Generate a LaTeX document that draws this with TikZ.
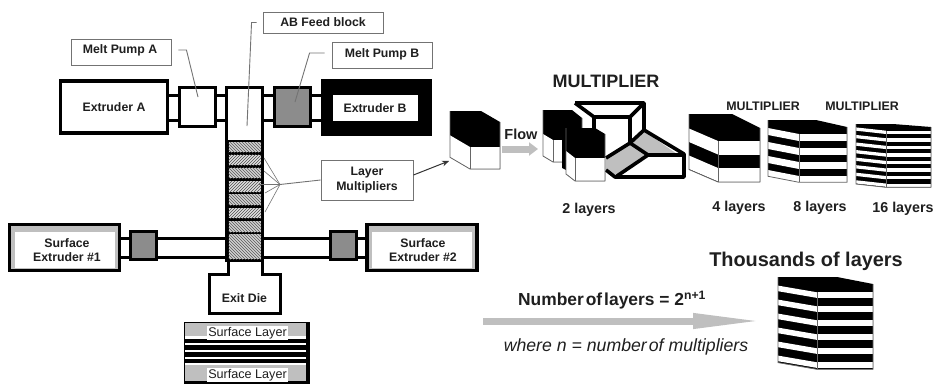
\documentclass[tikz,border=0pt]{standalone}
\usepackage{fontspec}
\setmainfont{Liberation Sans}
\usetikzlibrary{patterns,arrows.meta}
\definecolor{pumpgray}{gray}{0.55}
\definecolor{bandgray}{gray}{0.75}
\definecolor{leadgray}{gray}{0.45}
\definecolor{inkgray}{gray}{0.12}
\newcommand{\fsz}[1]{\fontsize{#1}{#1}\selectfont}
% xl xbk xm xr ytop yrc ybot yf0 h per n off
\newcommand{\layerblock}[8]{%
  \def\xl{#1}\def\xbk{#2}\def\xm{#3}\def\xr{#4}\def\ytop{#5}\def\yrc{#6}\def\ybot{#7}\def\yfz{#8}\layerblockb}
\newcommand{\layerblockb}[4]{%
  \fill[black] (\xl,\ytop) -- (\xbk,\ytop) -- (\xr,\yrc) -- (\xr,\ybot) -- (\xm,\ybot) -- ({\xl},{\ybot-#4}) -- cycle;
  \foreach \i in {1,...,#3}{
    \pgfmathsetmacro{\ya}{\yfz+(\i-1)*#2}
    \pgfmathsetmacro{\yb}{\ya+#1}
    \fill[white] (\xm,\ya) -- (\xr,\ya) -- (\xr,\yb) -- (\xm,\yb) -- cycle;
    \fill[white] ({\xl},{\ya-#4}) -- (\xm,\ya) -- (\xm,\yb) -- ({\xl},{\yb-#4}) -- cycle;
  }
  \draw[blockedge] (\xm,\yfz) -- (\xm,\ybot);
  \draw[blockedge] (\xr,\yrc) -- (\xr,\ybot) -- (\xm,\ybot) -- ({\xl},{\ybot-#4}) -- (\xl,\ytop);
}
\tikzset{
  x=1pt,y=-1pt,
  blockedge/.style={draw=black!60,line width=0.8pt},
  callout/.style={draw=leadgray,line width=0.9pt,fill=white,inner sep=0pt,align=center,font=\fsz{12.3}\bfseries,text=inkgray},
  unit/.style={draw=black,line width=3.2pt,fill=white,inner sep=0pt,align=center,font=\fsz{12.3}\bfseries,text=inkgray},
  pumpunit/.style={draw=black,line width=3.2pt,fill=#1,inner sep=0pt},
  pumpunit/.default=white,
  pipe/.style={draw=black,line width=3pt},
  leader/.style={draw=leadgray,line width=0.9pt},
  fan/.style={draw=leadgray,line width=0.6pt},
  hatchA/.style={fill=black!18,postaction={pattern=north west lines,pattern color=black!65}},
  hatchB/.style={fill=black!12,postaction={pattern=north east lines,pattern color=black!70}},
  flowarrow/.style={draw=bandgray,line width=7pt},
  title/.style={inner sep=0pt,font=\bfseries,text=inkgray},
  frameline/.style={draw=black,line width=3.6pt,line join=round},
}
\begin{document}
\begin{tikzpicture}
\useasboundingbox (0,0) rectangle (933,383);
% --- pipes
\coordinate (pa1) at (169,95); \coordinate (pa2) at (321,95);
\coordinate (pb1) at (169,120.5); \coordinate (pb2) at (321,120.5);
\draw[pipe] (pa1) -- (pa2); \draw[pipe] (pb1) -- (pb2);
\coordinate (sa1) at (121,238.5); \coordinate (sa2) at (366,238.5);
\coordinate (sb1) at (121,257); \coordinate (sb2) at (366,257);
\draw[pipe] (sa1) -- (sa2); \draw[pipe] (sb1) -- (sb2);
% --- extruders
\node[unit,minimum width=107,minimum height=52] (extA) at (114,107) {Extruder A};
\node[draw=black,fill=black,minimum width=110,minimum height=56,inner sep=0pt] (extBo) at (376,107) {};
\node[fill=white,minimum width=85,minimum height=26,inner sep=0pt,font=\fsz{12.3}\bfseries,text=inkgray] (extB) at (375,108) {Extruder B};
\node[pumpunit,minimum width=36,minimum height=39] (pumpA) at (197.5,107) {};
\node[pumpunit=pumpgray,minimum width=36,minimum height=39] (pumpB) at (292.5,107) {};
% --- column
\fill[white] (227,87.5) rectangle (262,262);
\draw[black,line width=3.2pt] (226.6,262) -- (226.6,87.6) -- (262.4,87.6) -- (262.4,262);
\fill[black] (226,140) rectangle (263,262);
\foreach \ya/\yb/\st in {142/152/hatchA,154.5/165/hatchB,167.5/178/hatchA,181/192/hatchB,194/205/hatchA,208/218/hatchB,221/232/hatchA,234/259/hatchA}{
  \path[\st] (228.5,\ya) rectangle (261,\yb);
}
% --- surface extruders
\foreach \nm/\cx/\tx/\lab in {surfL/64.5/67/{Surface\\[2pt]Extruder \#1},surfR/422/423/{Surface\\[2pt]Extruder \#2}}{
  \node[draw=black,line width=3.2pt,fill=bandgray,minimum width=110,minimum height=46,inner sep=0pt] (\nm o) at (\cx,247.5) {};
  \node[fill=white,minimum width=100,minimum height=36,inner sep=0pt] (\nm b) at (\cx,250) {};
  \node[inner sep=0pt,align=center,font=\fsz{12.3}\bfseries,text=inkgray] (\nm) at (\tx,250) {\lab};
}
\node[pumpunit=pumpgray,minimum width=26,minimum height=28] (pumpL) at (143.5,245.5) {};
\node[pumpunit=pumpgray,minimum width=26,minimum height=28] (pumpR) at (343.5,245.5) {};
% --- exit die
\draw[black,line width=3pt,fill=white] (228,262) -- (228,274) -- (209.5,274) -- (209.5,313) -- (280.5,313) -- (280.5,274) -- (262,274) -- (262,262);
\node[inner sep=0pt,font=\fsz{12.3}\bfseries,text=inkgray] (die) at (244.5,298) {Exit Die};
% --- surface layer stack
\node[draw=black,line width=3pt,fill=black,minimum width=123,minimum height=62,inner sep=0pt,anchor=north west] (stack) at (183.5,321.5) {};
\fill[bandgray] (185,323) rectangle (306,336);
\fill[white] (185,336) rectangle (306,339);
\foreach \y in {343,350,356.5,363}{\fill[white] (185,\y) rectangle (306,\y+2.2);}
\fill[bandgray] (185,365) rectangle (306,381);
\node[fill=white,inner sep=1pt,font=\fsz{12.6},text=inkgray] (sl1) at (247.5,333) {Surface Layer};
\node[fill=white,inner sep=1pt,font=\fsz{12.6},text=inkgray] (sl2) at (247.5,375) {Surface Layer};
% --- callouts
\node[callout,minimum width=100,minimum height=26] (lblA) at (121,52) {};
\node[inner sep=0pt,font=\fsz{12.3}\bfseries,text=inkgray] at (120,50) {Melt Pump A};
\node[callout,minimum width=120,minimum height=21] (lblFeed) at (323,22.5) {AB Feed block};
\node[callout,minimum width=100,minimum height=26] (lblB) at (382,55) {};
\node[inner sep=0pt,font=\fsz{12.3}\bfseries,text=inkgray] at (382,54) {Melt Pump B};
\node[callout,minimum width=92,minimum height=40] (lblLM) at (367,180) {Layer\\[2pt]Multipliers};
% leaders
\coordinate (leadA) at (198,97); \coordinate (leadFeed) at (247,126); \coordinate (leadB) at (295,102);
\draw[leader] (lblA.east)++(7,-2) -- ++(8,0) -- (leadA);
\draw[leader] (lblFeed.west)++(-6,0) -- ++(-5,0) -- (leadFeed);
\draw[leader] (lblB.west)++(-7,-2) -- ++(-15,0) -- (leadB);
\coordinate (hub) at (280,184.5);
\draw[leader] (lblLM.west) -- (hub);
\foreach \ex/\ey in {264/158,264/171,258/184.5,265/193,265/212}{
  \coordinate (fanend) at (\ex,\ey);
  \draw[fan] (hub) -- (fanend);
}
\coordinate (lmTip) at (449,161);
\draw[draw=black!80,line width=1pt,-{Stealth[length=7pt,width=6pt]}] (lblLM.east)+(0,-5) -- (lmTip);
% --- blocks
\layerblock{450}{481}{470}{500}{111}{122}{169}{147}{22}{22}{1}{11.7}
\node[title,font=\fsz{14.5}\bfseries] (flowlab) at (521,134) {Flow};
\coordinate (fa1) at (502,149); \coordinate (fa2) at (538,149);
\draw[flowarrow,-{Triangle[length=9pt,width=13pt]}] (fa1) -- (fa2);
% multiplier frame
\fill[white] (575,103) -- (644,103) -- (644,130) -- (684,154) -- (684,177) -- (615,177) -- (606,170) -- (594,128) -- cycle;
\fill[bandgray] (606,158) -- (630,144) -- (647,156) -- (617,176) -- (606,170) -- cycle;
\fill[bandgray] (632,142) -- (644,131) -- (677,154) -- (648,154) -- cycle;
\draw[frameline] (575,103) -- (644,103) -- (644,130) -- (684,154) -- (684,177) -- (615,177) -- (606,170);
\draw[frameline] (575,103) -- (594,117) -- (630,117) -- (644,103);
\draw[frameline] (594,117) -- (594,130);
\draw[frameline] (630,117) -- (630,143);
\draw[frameline] (644,130) -- (630,143) -- (606,158);
\draw[frameline] (630,143) -- (648,155) -- (684,155);
\draw[frameline] (648,155) -- (617,176);
% back and front blocks
\layerblock{543}{572}{553}{582}{110}{118}{162}{140}{22}{22}{1}{6}
\fill[black] (562,128) -- (590,128) -- (590,150) -- (570,172) -- (562,168) -- cycle;
\layerblock{566}{595}{575}{605}{128}{134}{181}{158}{23}{23}{1}{7}
\node[title,font=\fsz{18}\bfseries] (multT) at (606,81) {MULTIPLIER};
\node[title,font=\fsz{14.3}\bfseries] (l2) at (589,210) {2 layers};
% layered stacks
\layerblock{689}{732}{718}{760}{114}{128}{182}{141}{13.5}{27}{2}{12.5}
\layerblock{768}{816}{799}{847}{120}{127}{182.3}{134}{7}{14}{4}{6}
\layerblock{856}{893}{886}{931}{124}{127}{187.3}{130.7}{3.3}{7.55}{8}{3.3}
\layerblock{778}{837}{817}{873}{277}{284}{369.3}{292.3}{5.6}{14}{6}{6.7}
\node[title,font=\fsz{12.4}\bfseries] (m2) at (763,106) {MULTIPLIER};
\node[title,font=\fsz{12.4}\bfseries] (m3) at (862,106) {MULTIPLIER};
\node[title,font=\fsz{14.3}\bfseries] (l4) at (739,208) {4 layers};
\node[title,font=\fsz{14.3}\bfseries] (l8) at (820,208) {8 layers};
\node[title,font=\fsz{14.3}\bfseries] (l16) at (903,209) {16 layers};
\node[title,font=\fsz{19.9}\bfseries] (thou) at (806,261) {Thousands of layers};
\node[title,font=\fsz{17.4}\bfseries] (numl) at (612,300) {Number\hspace{2pt}of\hspace{2pt}layers = 2\textsuperscript{n+1}};
\coordinate (ba1) at (483,321); \coordinate (ba2) at (764,321);
\draw[flowarrow,-{Triangle[length=71pt,width=14pt]}] (ba1) -- (ba2);
\node[inner sep=0pt,font=\fsz{17.7}\itshape,text=inkgray] (wh) at (626,347) {where n = number\hspace{2pt}of multipliers};
\end{tikzpicture}
\end{document}
